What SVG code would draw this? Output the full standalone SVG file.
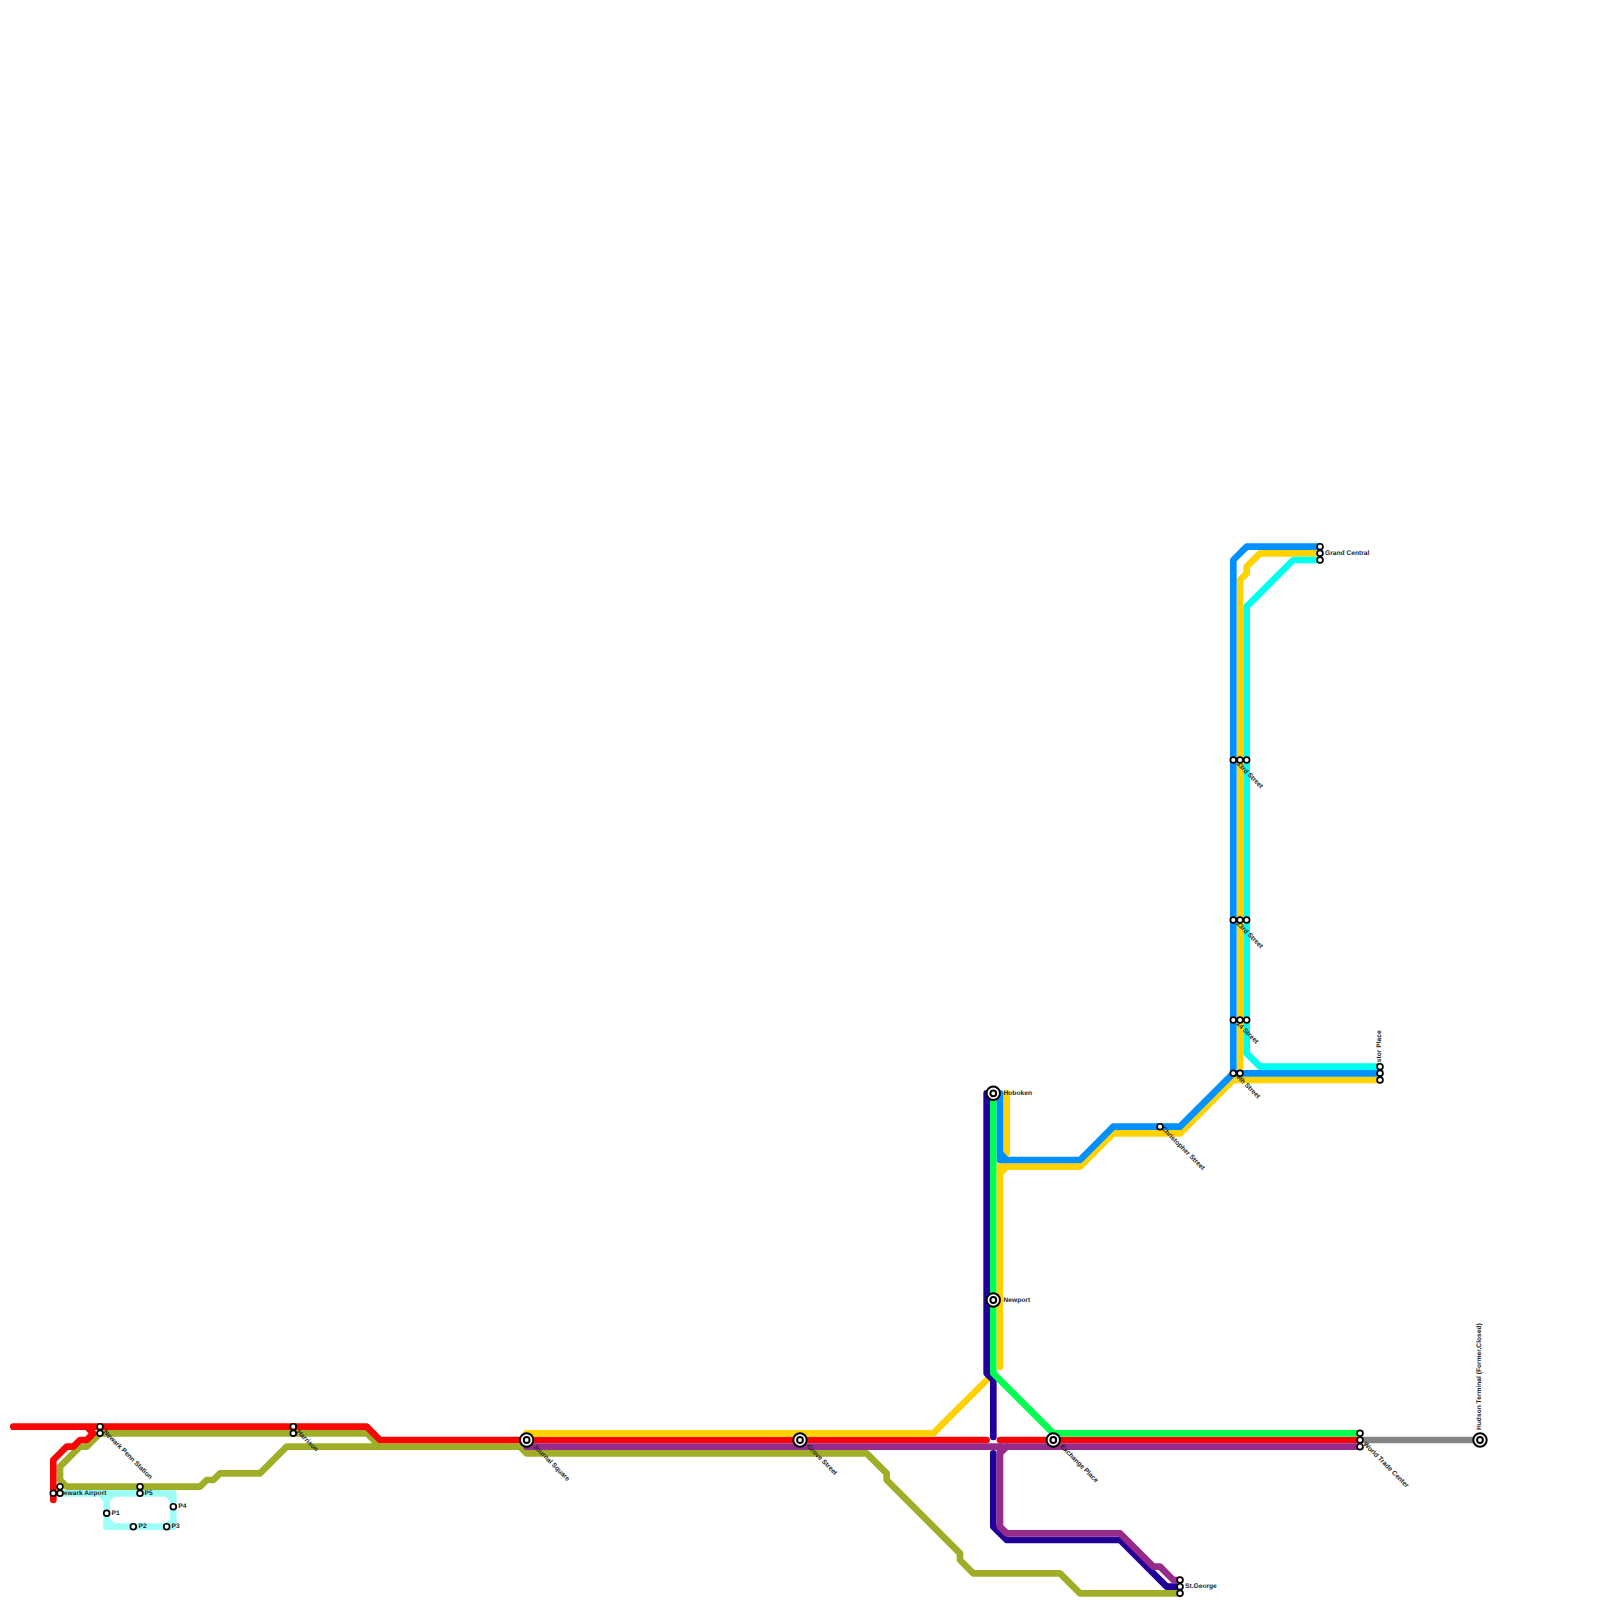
<svg xmlns="http://www.w3.org/2000/svg" width="1600" height="1600" viewBox="0 0 1600 1600">
<style>
.l{fill:none;stroke-width:6.67;stroke-linejoin:round;stroke-linecap:round}
.red{stroke:#f70505}.olive{stroke:#9fae26}.yellow{stroke:#ffd200}.purple{stroke:#962b8a}.indigo{stroke:#21009a}.green{stroke:#00ff4e}.blue{stroke:#0090ff}.cyan{stroke:#00ffee}.pale{stroke:#9dfff8}.grey{stroke:#858585}
.s{fill:#fff;stroke:#000;stroke-width:1.7}
.i{fill:#fff;stroke:#000;stroke-width:2}
text{font-family:"Liberation Sans",Arial,sans-serif;font-size:6.67px;font-weight:700;fill:#222;dominant-baseline:central;text-rendering:geometricPrecision;opacity:.99}
</style>
<rect width="1600" height="1600" fill="#fff"/>
<g id="connectors">
<path class="l pale" d="M60 1493.3H173.3V1526.67H106.67V1500L100 1493.3M113.3 1493.3L106.67 1500M106.67 1520L113.3 1526.67M166.67 1526.67L173.3 1520M173.3 1500L166.67 1493.3"/>
<path class="l grey" d="M1360 1440H1480"/>
<path class="l olive" d="M100 1433.3H367L380 1446.67M100 1433.3L86.67 1446.67H80L60 1466.67V1480L66.67 1486.67H200L206.67 1480H213.3L220 1473.3H260L286.67 1446.67H520L526.67 1453.3H866.67L886.67 1473.3V1480L960 1553.3V1560L973.3 1573.3H1060L1080 1593.3H1180"/>
<path class="l red" d="M53.3 1500V1460L66.67 1446.67H73.3L80 1440H86.67L93.3 1433.3L86.67 1426.67M13.3 1426.67H366.67L380 1440H986.67M1000 1440H1360"/>
<path class="l yellow" d="M526.67 1433.3H933.3L986.67 1380"/>
<path class="l purple" d="M526.67 1446.67H1360"/>
<path class="l indigo" d="M986.67 1093.3V1373.3L993.3 1380V1437M993.3 1453.3V1526.67L1006.67 1540H1120L1166.67 1586.67H1180"/>
<path class="l purple" d="M1000 1446.67V1526.67L1006.67 1533.3H1120L1153.3 1566.67H1160L1173.3 1580H1180M1006.67 1446.67L1000 1453.3"/>
<path class="l green" d="M993.3 1093.3V1373.3L1053.3 1433.3H1360"/>
<path class="l yellow" d="M1006.67 1093.3V1153.3M1000 1366.67V1166.67H1080L1113.3 1133.3H1180L1233.3 1080H1380M1000 1173.3L1006.67 1166.67M1240 1073.3V580L1246.67 573.3V566.67L1260 553.3H1320M1240 1073.3L1233.3 1080"/>
<path class="l cyan" d="M1246.67 1053.3V606.67L1293.3 560H1320M1246.67 1053.3L1260 1066.67H1380"/>
<path class="l blue" d="M1000 1093.3V1160H1080L1113.3 1126.67H1180L1233.3 1073.3V560L1246.67 546.67H1320M1000 1153.3L1006.67 1160M1233.3 1073.3H1380"/>
</g>
<g id="newark-airport"><text x="59" y="1493.8">Newark Airport</text><circle class="s" cx="53.3" cy="1493.3" r="2.9"/><circle class="s" cx="60" cy="1486.67" r="2.9"/><circle class="s" cx="60" cy="1493.3" r="2.9"/></g>
<g id="newark-penn"><text transform="translate(104 1431.5) rotate(45)">Newark Penn Station</text><circle class="s" cx="100" cy="1426.67" r="2.9"/><circle class="s" cx="100" cy="1433.3" r="2.9"/></g>
<g id="harrison"><text transform="translate(297.5 1431.5) rotate(45)">Harrison</text><circle class="s" cx="293.3" cy="1426.67" r="2.9"/><circle class="s" cx="293.3" cy="1433.3" r="2.9"/></g>
<g id="p5"><text x="144.5" y="1493.2">P5</text><circle class="s" cx="140" cy="1486.67" r="2.9"/><circle class="s" cx="140" cy="1493.3" r="2.9"/></g>
<g id="p1"><text x="111.5" y="1513.2">P1</text><circle class="s" cx="106.67" cy="1513.3" r="2.9"/></g>
<g id="p2"><text x="138.5" y="1526.5">P2</text><circle class="s" cx="133.3" cy="1526.67" r="2.9"/></g>
<g id="p3"><text x="171.5" y="1526.5">P3</text><circle class="s" cx="166.67" cy="1526.67" r="2.9"/></g>
<g id="p4"><text x="178.3" y="1506.5">P4</text><circle class="s" cx="173.3" cy="1506.67" r="2.9"/></g>
<g id="journal-square"><text transform="translate(534 1446) rotate(45)">Journal Square</text><circle class="i" cx="526.67" cy="1440" r="6.7"/><circle class="i" cx="526.67" cy="1440" r="2.9"/></g>
<g id="grove-street"><text transform="translate(807.5 1446) rotate(45)">Grove Street</text><circle class="i" cx="800" cy="1440" r="6.7"/><circle class="i" cx="800" cy="1440" r="2.9"/></g>
<g id="exchange-place"><text transform="translate(1061 1446) rotate(45)">Exchange Place</text><circle class="i" cx="1053.3" cy="1440" r="6.7"/><circle class="i" cx="1053.3" cy="1440" r="2.9"/></g>
<g id="hoboken"><text x="1003.5" y="1093.4">Hoboken</text><circle class="i" cx="993.3" cy="1093.3" r="6.7"/><circle class="i" cx="993.3" cy="1093.3" r="2.9"/></g>
<g id="newport"><text x="1003.5" y="1300.4">Newport</text><circle class="i" cx="993.3" cy="1300" r="6.7"/><circle class="i" cx="993.3" cy="1300" r="2.9"/></g>
<g id="christopher-street"><text transform="translate(1162 1128) rotate(45)">Christopher Street</text><circle class="s" cx="1160" cy="1126.67" r="2.9"/></g>
<g id="ninth-street"><text transform="translate(1237 1076) rotate(45)">9th Street</text><circle class="s" cx="1233.3" cy="1073.3" r="2.9"/><circle class="s" cx="1240" cy="1073.3" r="2.9"/></g>
<g id="fourteenth-street"><text transform="translate(1237 1023) rotate(45)">14 Street</text><circle class="s" cx="1233.3" cy="1020" r="2.9"/><circle class="s" cx="1240" cy="1020" r="2.9"/><circle class="s" cx="1246.67" cy="1020" r="2.9"/></g>
<g id="twentythird-street"><text transform="translate(1237 923) rotate(45)">23rd Street</text><circle class="s" cx="1233.3" cy="920" r="2.9"/><circle class="s" cx="1240" cy="920" r="2.9"/><circle class="s" cx="1246.67" cy="920" r="2.9"/></g>
<g id="thirtythird-street"><text transform="translate(1237 763) rotate(45)">33rd Street</text><circle class="s" cx="1233.3" cy="760" r="2.9"/><circle class="s" cx="1240" cy="760" r="2.9"/><circle class="s" cx="1246.67" cy="760" r="2.9"/></g>
<g id="grand-central"><text x="1325" y="553.4">Grand Central</text><circle class="s" cx="1320" cy="546.67" r="2.9"/><circle class="s" cx="1320" cy="553.3" r="2.9"/><circle class="s" cx="1320" cy="560" r="2.9"/></g>
<g id="astor-place"><text transform="translate(1379.5 1067) rotate(-90)">Astor Place</text><circle class="s" cx="1380" cy="1066.67" r="2.9"/><circle class="s" cx="1380" cy="1073.3" r="2.9"/><circle class="s" cx="1380" cy="1080" r="2.9"/></g>
<g id="world-trade-center"><text transform="translate(1364 1443.5) rotate(45)">World Trade Center</text><circle class="s" cx="1360" cy="1433.3" r="2.9"/><circle class="s" cx="1360" cy="1440" r="2.9"/><circle class="s" cx="1360" cy="1446.67" r="2.9"/></g>
<g id="hudson-terminal"><text transform="translate(1479.5 1430) rotate(-90)">Hudson Terminal (Former,Closed)</text><circle class="i" cx="1480" cy="1440" r="6.7"/><circle class="i" cx="1480" cy="1440" r="2.9"/></g>
<g id="st-george"><text x="1185" y="1586.6">St.George</text><circle class="s" cx="1180" cy="1580" r="2.9"/><circle class="s" cx="1180" cy="1586.67" r="2.9"/><circle class="s" cx="1180" cy="1593.3" r="2.9"/></g>
</svg>
